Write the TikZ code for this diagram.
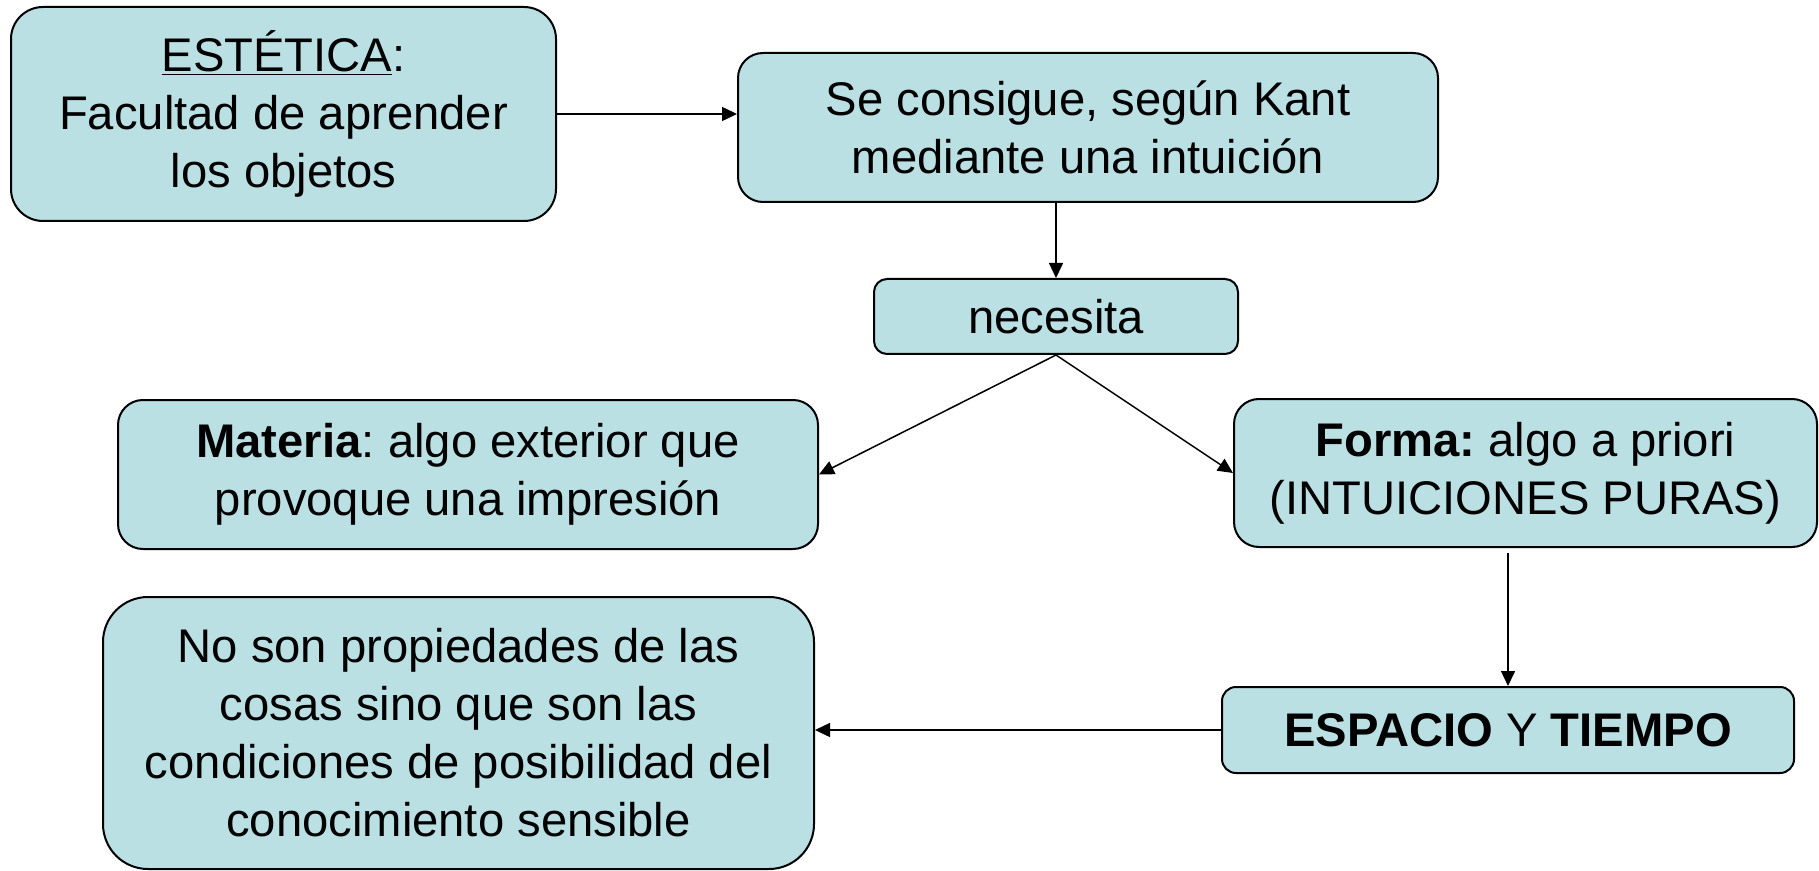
\documentclass[tikz,border=0pt]{standalone}
\usepackage{fontspec}
\setmainfont{Liberation Sans}
\usetikzlibrary{arrows.meta}
\definecolor{boxfill}{RGB}{186,224,228}
\frenchspacing
\begin{document}
\begin{tikzpicture}[x=0.5pt,y=-0.5pt,
  bx/.style={draw=black, fill=boxfill, line width=1pt, align=center, inner sep=0pt,
    font=\fontsize{23.6}{29}\selectfont},
  conn/.style={line width=0.75pt, -{Triangle[length=7.5pt,width=7pt]}}]
\useasboundingbox (0,0) rectangle (1819,871);
\node[bx, minimum width=272.5pt, minimum height=107pt, rounded corners=16pt] (est) at (283.5,114)
  {\underline{ESTÉTICA}:\\Facultad de aprender\\los objetos};
\node[bx, minimum width=350pt, minimum height=74.5pt, rounded corners=12.5pt] (kant) at (1088,127.5)
  {Se consigue, según Kant\\mediante una intuición};
\node[bx, minimum width=182pt, minimum height=37.5pt, rounded corners=6.5pt] (nec) at (1056,316.5)
  {necesita};
\node[bx, minimum width=350pt, minimum height=74.5pt, rounded corners=12.5pt] (mat) at (468,474.5)
  {\textbf{Materia}: algo exterior que\\provoque una impresión};
\node[bx, minimum width=291.5pt, minimum height=74pt, rounded corners=12.5pt] (forma) at (1525.5,473)
  {\textbf{Forma:} algo a priori\\(INTUICIONES PURAS)};
\node[bx, minimum width=286pt, minimum height=43pt, rounded corners=7pt] (esp) at (1508,730)
  {\textbf{ESPACIO} Y \textbf{TIEMPO}};
\node[bx, minimum width=355.5pt, minimum height=136pt, rounded corners=22.5pt] (noson) at (458.5,733)
  {No son propiedades de las\\cosas sino que son las\\condiciones de posibilidad del\\conocimiento sensible};
\draw[conn] (est.east) -- (est.east -| kant.west);
\draw[conn] (kant.south -| nec.north) -- (nec.north);
\draw[conn] (nec.south) -- (mat.east);
\draw[conn] (nec.south) -- (forma.west);
\draw[conn, shorten <=2.5pt] (forma.south -| esp.north) -- (esp.north);
\draw[conn] (esp.west) -- (esp.west -| noson.east);
\end{tikzpicture}
\end{document}
